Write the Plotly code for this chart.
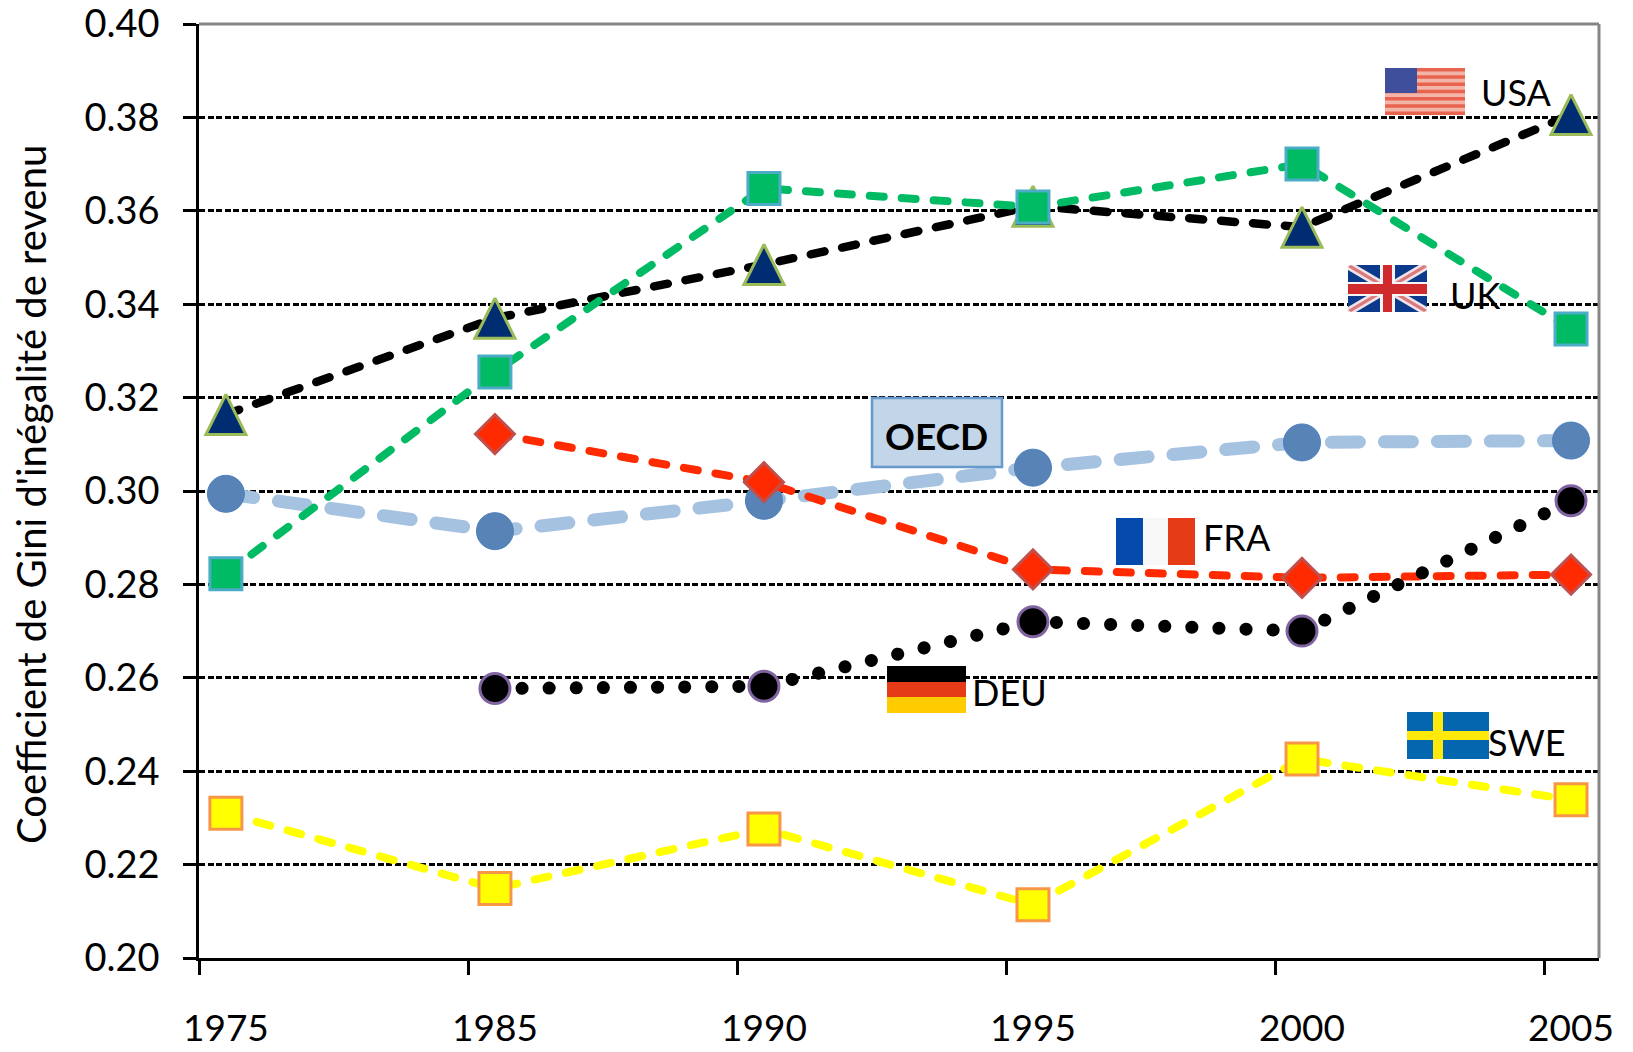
import plotly.graph_objects as go

years = ["1975", "1985", "1990", "1995", "2000", "2005"]
x_pos = list(range(len(years)))
y_ticks = [0.20, 0.22, 0.24, 0.26, 0.28, 0.30, 0.32, 0.34, 0.36, 0.38, 0.40]

oecd = [0.2994, 0.2914, 0.2979, 0.3050, 0.3104, 0.3108]
usa = [0.3164, 0.3370, 0.3485, 0.3610, 0.3565, 0.3806]
uk = [0.2823, 0.3255, 0.3648, 0.3608, 0.3700, 0.3347]
fra = [None, 0.3122, 0.3019, 0.2832, 0.2814, 0.2821]
deu = [None, 0.2577, 0.2582, 0.2720, 0.2700, 0.2979]
swe = [0.2310, 0.2149, 0.2276, 0.2114, 0.2426, 0.2339]

W, H = 1633, 1052
L, R, T, B = 199, 1599, 24, 958
FONT = "Lato"


def px(v):
    return (v - L) / (R - L)


def py(v):
    return (B - v) / (B - T)


fig = go.Figure()


def add(name, vals, line, width, dash, sym, size, fill, edge, ew=3):
    fig.add_trace(go.Scatter(
        x=x_pos, y=vals, name=name, mode="lines+markers",
        line=dict(color=line, width=width, dash=dash),
        marker=dict(symbol=sym, size=size, color=fill, line=dict(color=edge, width=ew)),
        connectgaps=False, showlegend=False, cliponaxis=False))


add("OECD", oecd, "#A5C2E0", 13, "28px,25px", "circle", 37, "#5783B7", "#4F81BD", 1)
add("USA", usa, "#000000", 8.5, "14px,18px", "triangle-up", 34, "#002D72", "#9BBB59")
add("UK", uk, "#00BB63", 8, "14px,18px", "square", 32, "#00BB63", "#4BACC6")
add("FRA", fra, "#FF2A00", 8, "14px,18px", "diamond", 30, "#FF2A00", "#C0504D")
add("DEU", deu, "#000000", 13, "0.1px,27px", "circle", 30, "#000000", "#8064A2")
add("SWE", swe, "#FFFF00", 8, "14px,18px", "square", 32, "#FFFF00", "#F79646")

shapes = []


def rect(x0, y0, x1, y1, fill, line=None, lw=0):
    shapes.append(dict(type="rect", xref="paper", yref="paper", x0=px(x0), x1=px(x1),
                       y0=py(y1), y1=py(y0), fillcolor=fill, layer="above",
                       line=dict(color=line or fill, width=lw)))


def poly(pts, fill):
    d = "M" + " L".join(f"{px(a):.5f},{py(b):.5f}" for a, b in pts) + " Z"
    shapes.append(dict(type="path", xref="paper", yref="paper", path=d, fillcolor=fill,
                       layer="above", line=dict(width=0)))


# USA flag
rect(1385, 68, 1465, 115, "#F3B5A8")
for i in range(0, 13, 2):
    rect(1385, 68 + i * 47 / 13, 1465, 68 + (i + 1) * 47 / 13, "#E9644F")
rect(1385, 68, 1417, 93, "#3F4F9C")
# UK flag
rect(1348, 265, 1427, 312, "#0B3A8C")
poly([(1348, 265), (1356, 265), (1427, 307), (1427, 312), (1419, 312), (1348, 270)], "#F0E4E6")
poly([(1427, 265), (1419, 265), (1348, 307), (1348, 312), (1356, 312), (1427, 270)], "#F0E4E6")
poly([(1348, 267), (1351, 265), (1427, 310), (1424, 312)], "#DB7A7E")
poly([(1427, 267), (1424, 265), (1348, 310), (1351, 312)], "#DB7A7E")
rect(1348, 282, 1427, 296, "#F5F5F5")
rect(1380, 265, 1395, 312, "#F5F5F5")
rect(1348, 284, 1427, 294, "#CF2A2E")
rect(1383, 265, 1392, 312, "#CF2A2E")
# France flag
rect(1116, 518, 1143, 565, "#054AAD")
rect(1143, 518, 1168, 565, "#F8F8F8")
rect(1168, 518, 1195, 565, "#E63B17")
# Germany flag
rect(887, 666, 966, 682, "#000000")
rect(887, 682, 966, 697, "#E63B17")
rect(887, 697, 966, 713, "#FFCC00")
# Sweden flag
rect(1407, 712, 1489, 759, "#0566B0")
rect(1433, 712, 1443, 759, "#FFE90A")
rect(1407, 731, 1489, 740, "#FFE90A")
# OECD box
rect(872, 398, 1002, 467, "#C3D5E9", "#6699CC", 2.5)
# right and top frame
shapes.append(dict(type="line", xref="paper", yref="paper", x0=1, x1=1, y0=0, y1=1,
                   line=dict(color="#868686", width=3), layer="above"))
shapes.append(dict(type="line", xref="paper", yref="paper", x0=0, x1=1, y0=1, y1=1,
                   line=dict(color="#868686", width=3), layer="below"))

annotations = []


def label(text, cx, cy, bold=False, size=36, angle=0):
    annotations.append(dict(text=f"<b>{text}</b>" if bold else text, xref="paper", yref="paper",
                            x=px(cx), y=py(cy), xanchor="center", yanchor="middle", showarrow=False,
                            textangle=angle, font=dict(family=FONT, size=size, color="#000000")))


label("USA", 1516, 92)
label("UK", 1475, 295)
label("FRA", 1237, 537)
label("DEU", 1009, 692)
label("SWE", 1527, 742)
label("OECD", 936, 435, bold=True, size=37)
label("Coefficient de Gini d'inégalité de revenu", 31, 495, size=40, angle=-90)

fig.update_layout(
    template="none",
    width=W, height=H, autosize=False,
    margin=dict(l=L, r=W - R, t=T, b=H - B, pad=0),
    paper_bgcolor="#FFFFFF", plot_bgcolor="#FFFFFF",
    font=dict(family=FONT, size=38, color="#000000"),
    shapes=shapes, annotations=annotations,
    xaxis=dict(
        automargin=False, range=[-0.1, 5.104], tickmode="array", tickvals=x_pos, ticktext=years,
        ticks="", ticklen=0, ticklabelstandoff=36, showgrid=False, zeroline=False,
        showline=True, linecolor="#000000", linewidth=2.5, ticklabeloverflow="allow",
        tickfont=dict(family=FONT, size=37),
        minor=dict(tickmode="linear", tick0=-0.1, dtick=1, ticks="outside", ticklen=14,
                   tickwidth=2.5, tickcolor="#000000", showgrid=False),
    ),
    yaxis=dict(
        automargin=False, range=[0.20, 0.40], tickmode="array", tickvals=y_ticks,
        ticktext=[f"{v:.2f}" for v in y_ticks], ticklabeloverflow="allow",
        ticks="outside", ticklen=13, tickwidth=2.5, tickcolor="#000000",
        ticklabelstandoff=16, showgrid=True, gridcolor="#000000", gridwidth=2.5,
        griddash="6px,2.5px", zeroline=False, showline=True, linecolor="#000000", linewidth=2.5,
        tickfont=dict(family=FONT, size=38),
    ),
)

post = """
var restyle = function () {
  document.querySelectorAll('.scatterlayer .js-line').forEach(function (p) {
    p.style.strokeLinecap = 'round';
  });
  var tr = document.querySelectorAll('.scatterlayer .trace')[1];
  if (tr) tr.querySelectorAll('.points path').forEach(function (p) {
    p.setAttribute('d', 'M-20,20H20L0,-20Z');
  });
  document.body.style.margin = '0';
};
restyle();
setTimeout(restyle, 100);
"""
fig.write_html("out.html", post_script=post, config={"displayModeBar": False})
